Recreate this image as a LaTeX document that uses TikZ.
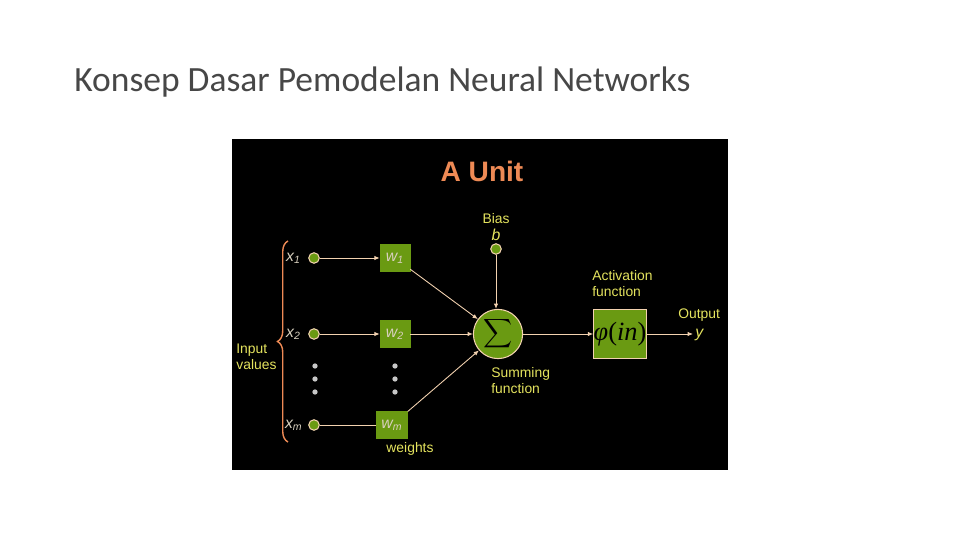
\documentclass[tikz,border=0pt]{standalone}
\usepackage{fontspec}
\setmainfont{Liberation Sans}
\newfontfamily\titlefont{Carlito}
\newfontfamily\mathlikefont{Liberation Serif}
\usepackage{graphicx}
\usepackage{xcolor}
\usepackage{tikz}
\usetikzlibrary{arrows.meta,positioning,shapes.geometric,calc,decorations.pathreplacing}

\definecolor{unitgreen}{HTML}{6A9A12}
\definecolor{linebeige}{HTML}{F3D2B0}
\definecolor{braceorange}{HTML}{EE8A55}
\definecolor{labelyellow}{HTML}{E4E35E}
\definecolor{varbeige}{HTML}{D8D0BE}
\definecolor{dotgray}{HTML}{C8C8C8}

\begin{document}
\begin{tikzpicture}[x=0.02cm,y=-0.02cm,
  every node/.style={font=\fontsize{7.9}{9}\selectfont},
  wbox/.style={draw=unitgreen,fill=unitgreen,inner sep=0pt,text=varbeige,font=\fontsize{9}{9}\selectfont},
  indot/.style={circle,draw=linebeige,fill=unitgreen,line width=0.6pt,inner sep=0pt},
  conn/.style={draw=linebeige,line width=0.5pt,-{Latex[length=3pt,width=2.5pt]}},
  yellowlbl/.style={text=labelyellow,align=left,inner sep=0pt},
  xlbl/.style={text=varbeige,font=\fontsize{9}{9}\selectfont,inner sep=0pt},
  vdot/.style={circle,fill=dotgray,inner sep=0pt,minimum size=3pt}]
  \useasboundingbox (0,0) rectangle (960,540);
  % slide title
  \node[anchor=base west,inner sep=0pt,font=\titlefont\fontsize{20.2}{24}\selectfont,text=black!72] (title) at (74,92) {Konsep Dasar Pemodelan Neural Networks};
  % black panel
  \fill[black] (232,139) rectangle (728,470);
  \node[text=braceorange,font=\bfseries\fontsize{16}{18}\selectfont] (unit) at (482,171) {A Unit};
  % inputs
  \node[indot,minimum size=6pt] (x1) at (314,258) {};
  \node[indot,minimum size=6pt] (x2) at (314,334) {};
  \node[indot,minimum size=6pt] (xm) at (314,425) {};
  \node[xlbl,left=4pt of x1] (x1l) {\itshape x\textsubscript{1}};
  \node[xlbl,left=4pt of x2] (x2l) {\itshape x\textsubscript{2}};
  \node[xlbl,left=3pt of xm] (xml) {\itshape x\textsubscript{m}};
  % weights
  \node[wbox,minimum width=17pt,minimum height=15pt] (w1) at (395,258) {\itshape w\textsubscript{1}};
  \node[wbox,minimum width=17pt,minimum height=15pt] (w2) at (395,334) {\itshape w\textsubscript{2}};
  \node[wbox,minimum width=17.5pt,minimum height=15pt] (wm) at (392,425) {\itshape w\textsubscript{m}};
  \foreach \yy in {366,379,392} {
    \node[vdot] at (315,\yy) {};
    \node[vdot] at (395,\yy) {};
  }
  % sum, bias, activation
  \node[circle,draw=linebeige,fill=unitgreen,line width=0.6pt,minimum size=28pt,inner sep=0pt] (sum) at (498,334) {\scalebox{1.15}{$\displaystyle\sum$}};
  \node[indot,minimum size=6pt] (b) at (496,249) {};
  \node[text=labelyellow,above=0pt of b,inner sep=1pt,font=\fontsize{9}{9}\selectfont] (bl) {\itshape b};
  \node[text=labelyellow,above=1pt of bl,inner sep=1pt] (bias) {Bias};
  \node[draw=linebeige,fill=unitgreen,line width=0.6pt,minimum size=28pt,inner sep=0pt] (act) at (620,334) {\mathlikefont\fontsize{15}{15}\selectfont\textit{φ}(\textit{in})};
  \coordinate (out) at (693,334);
  % connectors
  \draw[conn] (x1) -- (w1);
  \draw[conn] (x2) -- (w2);
  \draw[draw=linebeige,line width=0.5pt] (xm) -- (wm);
  \draw[conn] (w1) -- (sum);
  \draw[conn] (w2) -- (sum);
  \draw[conn] (wm) -- (sum);
  \draw[conn] (b) -- (b |- sum.north);
  \draw[conn] (sum) -- (act);
  \draw[conn] (act) -- (out);
  % labels
  \node[yellowlbl,anchor=north west] (actl) at (592,270) {Activation\\function};
  \node[yellowlbl,anchor=north west] (outl) at (678,308) {Output};
  \node[text=labelyellow,inner sep=0pt,anchor=west,font=\fontsize{9}{9}\selectfont] (yl) at (695,335) {\itshape y};
  \node[yellowlbl,anchor=north west] (suml) at (491,367) {Summing\\function};
  \node[text=labelyellow,inner sep=0pt] (wl) at (410,449) {weights};
  \node[yellowlbl,anchor=west] (inl) at (236,357) {Input\\values};
  \draw[braceorange,line width=0.8pt,decorate,decoration={brace,amplitude=6pt}] (288,442) -- (288,241);
\end{tikzpicture}
\end{document}
